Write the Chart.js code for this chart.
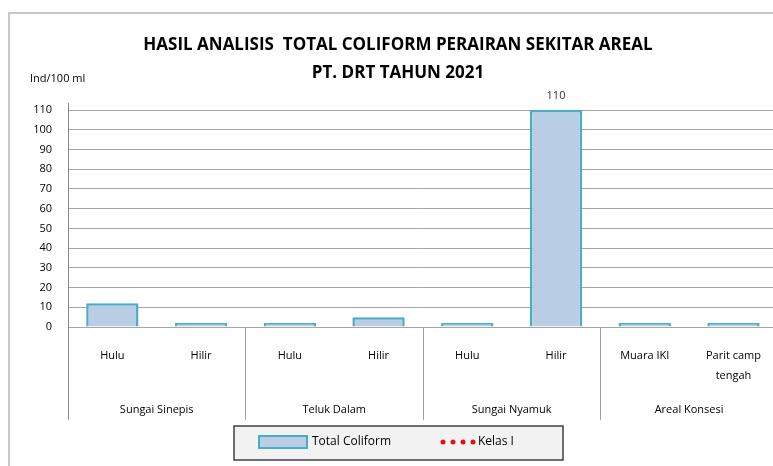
<!DOCTYPE html>
<html><head><meta charset="utf-8">
<script src="https://cdn.jsdelivr.net/npm/chart.js@4.4.0/dist/chart.umd.min.js"></script>
<style>html,body{margin:0;padding:0;background:#fff;overflow:hidden}#wrap{width:773px;height:466px;position:relative;overflow:hidden}</style>
</head><body><div id="wrap"><canvas id="c" width="779" height="466"></canvas></div>
<script>
const titleLines = ["HASIL ANALISIS  TOTAL COLIFORM PERAIRAN SEKITAR AREAL", "PT. DRT TAHUN 2021"];
const unitLabel = "Ind/100 ml";
const stations = [["Hulu"], ["Hilir"], ["Hulu"], ["Hilir"], ["Hulu"], ["Hilir"], ["Muara IKI"], ["Parit camp", "tengah"]];
const groups = ["Sungai Sinepis", "Teluk Dalam", "Sungai Nyamuk", "Areal Konsesi"];
const groupSize = [2, 2, 2, 2];
const totalColiform = [12, 2, 2, 5, 2, 110, 2, 2];
const kelasI = [1000, 1000, 1000, 1000, 1000, 1000, 1000, 1000];
const labelled = [110];

const FONT = "'Open Sans', 'DejaVu Sans', sans-serif";

const deco = {
  id: 'deco',
  beforeDraw(chart) {
    const ctx = chart.ctx;
    ctx.save();
    ctx.fillStyle = '#fff';
    ctx.fillRect(0, 0, chart.width, chart.height);
    ctx.strokeStyle = '#c8c8c8'; ctx.lineWidth = 2;
    ctx.beginPath(); ctx.moveTo(9, 466); ctx.lineTo(9, 13); ctx.lineTo(chart.width, 13); ctx.stroke();
    ctx.restore();
  },
  afterDraw(chart) {
    const ctx = chart.ctx, x = chart.scales.x, y = chart.scales.y, ca = chart.chartArea;
    ctx.save();
    ctx.fillStyle = '#000'; ctx.textAlign = 'center'; ctx.textBaseline = 'middle';
    ctx.font = "bold 17px " + FONT;
    ctx.fillText(titleLines[0], 398, 45);
    ctx.fillText(titleLines[1], 398, 73);
    ctx.font = "11px " + FONT; ctx.textAlign = 'left';
    ctx.fillText(unitLabel, 30, 79);
    ctx.strokeStyle = '#8c8c8c'; ctx.lineWidth = 1;
    ctx.beginPath(); ctx.moveTo(ca.left + 0.5, ca.top - 7); ctx.lineTo(ca.left + 0.5, 420); ctx.stroke();
    let idx = 0;
    const half = (x.getPixelForValue(1) - x.getPixelForValue(0)) / 2;
    ctx.font = "11px " + FONT; ctx.textAlign = 'center'; ctx.fillStyle = '#000';
    groups.forEach((g, gi) => {
      const a = x.getPixelForValue(idx) - half, b = x.getPixelForValue(idx + groupSize[gi] - 1) + half;
      ctx.fillText(g, (a + b) / 2, 410);
      if (gi > 0) {
        ctx.strokeStyle = '#a0a0a0';
        ctx.beginPath(); ctx.moveTo(Math.round(a) + 0.5, ca.bottom); ctx.lineTo(Math.round(a) + 0.5, 420); ctx.stroke();
      }
      idx += groupSize[gi];
    });
    const meta = chart.getDatasetMeta(0);
    ctx.font = "11px " + FONT; ctx.fillStyle = '#333';
    totalColiform.forEach((v, i) => {
      if (labelled.includes(v)) {
        ctx.fillText(String(v), meta.data[i].x, y.getPixelForValue(v) - 14);
      }
    });
    ctx.fillStyle = '#f2f2f2'; ctx.fillRect(234, 426, 329, 34);
    ctx.strokeStyle = '#404040'; ctx.lineWidth = 1.5; ctx.strokeRect(234, 426, 329, 34);
    ctx.fillStyle = '#b9cde5'; ctx.fillRect(259, 436, 48, 12);
    ctx.strokeStyle = '#4bacc6'; ctx.lineWidth = 2; ctx.strokeRect(259, 436, 48, 12);
    ctx.fillStyle = '#000'; ctx.textAlign = 'left'; ctx.font = "12px " + FONT;
    ctx.fillText("Total Coliform", 312, 442);
    ctx.fillStyle = '#e0101a';
    [443, 453, 463, 473].forEach(cx => { ctx.beginPath(); ctx.arc(cx, 442, 2.5, 0, Math.PI * 2); ctx.fill(); });
    ctx.fillStyle = '#000';
    ctx.fillText("Kelas I", 478, 442);
    ctx.restore();
  }
};

new Chart(document.getElementById('c'), {
  type: 'bar',
  data: {
    labels: stations,
    datasets: [
      { label: 'Total Coliform', data: totalColiform, backgroundColor: '#b9cde5', borderColor: '#4bacc6', borderWidth: 2.5, barPercentage: 0.59, categoryPercentage: 1 },
      { type: 'line', label: 'Kelas I', data: kelasI, borderColor: '#e0101a', borderDash: [2, 6], borderWidth: 3, pointRadius: 0, fill: false }
    ]
  },
  options: {
    responsive: false, animation: false,
    layout: { padding: { top: 110, left: 0, right: 0, bottom: 0 } },
    plugins: { legend: { display: false }, title: { display: false }, tooltip: { enabled: false } },
    scales: {
      y: {
        min: 0, max: 110,
        afterFit(s) { s.width = 68; },
        ticks: { stepSize: 10, padding: 16, color: '#000', font: { family: FONT, size: 11 } },
        grid: { color: '#a6a6a6', drawTicks: false },
        border: { display: false }
      },
      x: {
        afterFit(s) { s.height = 139; },
        ticks: { padding: 18, color: '#000', maxRotation: 0, autoSkip: false, font: { family: FONT, size: 11, lineHeight: 1.9 } },
        grid: { display: false, drawTicks: false },
        border: { display: false }
      }
    }
  },
  plugins: [deco]
});
</script>
</body></html>
